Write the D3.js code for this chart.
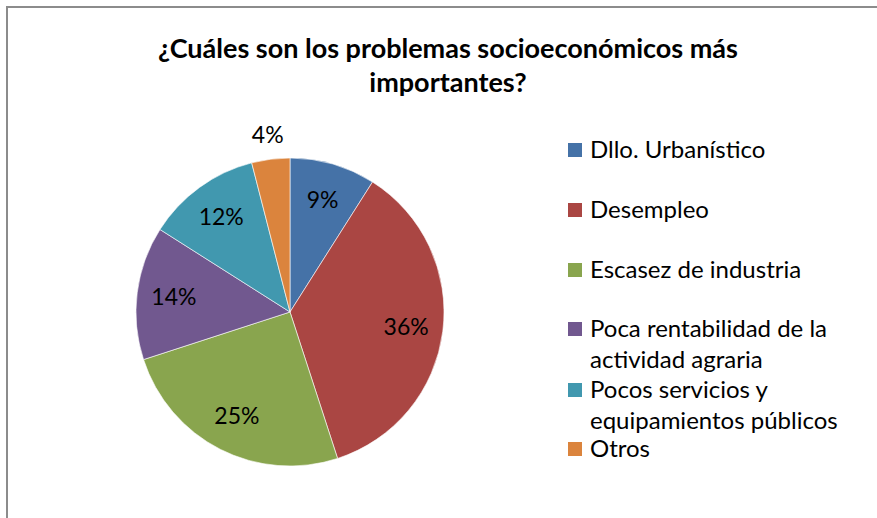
<!DOCTYPE html>
<html>
<head>
<meta charset="utf-8">
<script src="https://cdn.jsdelivr.net/npm/d3@7"></script>
<style>
  body { margin: 0; background: #fff; }
  text { font-family: Lato, "Open Sans", sans-serif; }
</style>
</head>
<body>
<div id="chart"></div>
<script>
var categories = ["Dllo. Urbanístico", "Desempleo", "Escasez de industria",
  "Poca rentabilidad de la actividad agraria", "Pocos servicios y equipamientos públicos", "Otros"]
var legendLines = [["Dllo. Urbanístico"], ["Desempleo"], ["Escasez de industria"],
  ["Poca rentabilidad de la", "actividad agraria"], ["Pocos servicios y", "equipamientos públicos"], ["Otros"]]
var values = [9, 36, 25, 14, 12, 4]
var colors = ["#4572A7", "#AA4643", "#89A54E", "#71588F", "#4198AF", "#DB843D"]
var titleLines = ["¿Cuáles son los problemas socioeconómicos más", "importantes?"]

var W = 877, H = 518
var svg = d3.select("#chart").append("svg")
    .attr("width", W)
    .attr("height", H)

// marco
svg.append("path")
    .attr("d", "M7,518 L7,7 L877,7")
    .style("fill", "none")
    .style("stroke", "#8c8c8c")
    .style("stroke-width", 2)

// titulo
svg.selectAll(".title")
    .data(titleLines)
    .enter().append("text")
    .attr("class", "title")
    .attr("x", 448)
    .attr("y", (d, i) => 58 + i * 34)
    .attr("text-anchor", "middle")
    .style("font-size", "27px")
    .style("font-weight", "bold")
    .attr("fill", "#000")
    .text(d => d)

var cx = 290, cy = 312, r = 154
var g = svg.append("g").attr("transform", "translate(" + cx + "," + cy + ")")

var pie = d3.pie().sort(null).value(d => d)
var arcs = pie(values)
var arc = d3.arc().innerRadius(0).outerRadius(r)
var labelArc = d3.arc().innerRadius(r * 0.76).outerRadius(r * 0.76)
var outerArc = d3.arc().innerRadius(r + 24).outerRadius(r + 24)

g.selectAll("path.slice")
    .data(arcs)
    .enter().append("path")
    .attr("class", "slice")
    .attr("d", arc)
    .style("fill", (d, i) => colors[i])
    .style("stroke", "#fff")
    .style("stroke-width", 0.6)

g.selectAll("text.pct")
    .data(arcs)
    .enter().append("text")
    .attr("class", "pct")
    .attr("transform", d => "translate(" + (d.data < 5 ? outerArc : labelArc).centroid(d) + ")")
    .attr("text-anchor", "middle")
    .attr("dy", "0.35em")
    .style("font-size", "23px")
    .attr("fill", "#000")
    .text(d => d.data + "%")

// leyenda
var rowY = [150, 210, 270, 329, 390, 449]
var leg = svg.selectAll(".leg")
    .data(categories)
    .enter().append("g")
    .attr("class", "leg")
    .attr("transform", (d, i) => "translate(568," + rowY[i] + ")")

leg.append("rect")
    .attr("x", 0)
    .attr("y", -7)
    .attr("width", 14)
    .attr("height", 14)
    .style("fill", (d, i) => colors[i])

leg.each(function(d, i) {
    legendLines[i].forEach((line, j) => {
        d3.select(this).append("text")
            .attr("x", 22)
            .attr("y", j * 31)
            .attr("dy", "0.35em")
            .style("font-size", "24px")
            .attr("fill", "#000")
            .text(line)
    })
})
</script>
</body>
</html>
